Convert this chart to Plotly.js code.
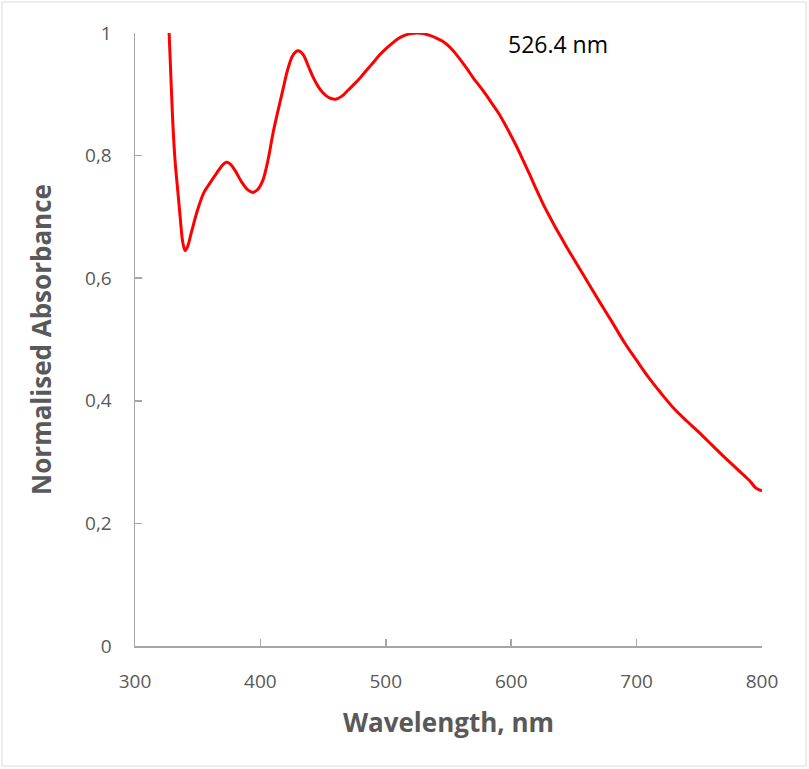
<!DOCTYPE html>
<html>
<head>
<meta charset="utf-8">
<script src="https://cdn.plot.ly/plotly-3.0.1.min.js"></script>
<style>html,body{margin:0;padding:0;background:#fff;}#chart{width:809px;height:769px;}</style>
</head>
<body>
<div id="chart"></div>
<script>
// Wavelength (nm)
var wavelength = [326, 328, 330, 332, 334, 336, 338, 340, 342, 345, 350, 355, 360, 365, 370, 373, 376, 380, 385, 390, 394, 398, 402, 406, 410, 414, 418, 422, 426, 430, 434, 438, 442, 446, 450, 455, 460, 465, 470, 475, 480, 485, 490, 495, 500, 505, 510, 515, 520, 525, 530, 535, 540, 545, 550, 555, 560, 565, 570, 575, 580, 585, 590, 595, 600, 605, 610, 615, 620, 625, 630, 635, 640, 645, 650, 660, 670, 680, 690, 700, 710, 720, 730, 740, 750, 760, 770, 780, 790, 795, 800];
// Normalised absorbance
var absorbance = [1.06, 0.96, 0.86, 0.79, 0.745, 0.70, 0.66, 0.645, 0.652, 0.675, 0.712, 0.740, 0.756, 0.771, 0.785, 0.789, 0.786, 0.775, 0.757, 0.744, 0.740, 0.745, 0.760, 0.792, 0.836, 0.873, 0.908, 0.942, 0.964, 0.971, 0.965, 0.947, 0.928, 0.913, 0.902, 0.894, 0.892, 0.897, 0.907, 0.917, 0.928, 0.940, 0.952, 0.964, 0.974, 0.983, 0.991, 0.996, 0.999, 1.0, 0.999, 0.996, 0.992, 0.987, 0.979, 0.968, 0.955, 0.941, 0.926, 0.913, 0.899, 0.884, 0.869, 0.851, 0.832, 0.812, 0.790, 0.768, 0.745, 0.723, 0.703, 0.684, 0.666, 0.648, 0.631, 0.597, 0.563, 0.530, 0.496, 0.466, 0.437, 0.411, 0.387, 0.367, 0.348, 0.328, 0.308, 0.289, 0.270, 0.258, 0.253];
var xTickVals = [300, 400, 500, 600, 700, 800];
var xTickText = ["300", "400", "500", "600", "700", "800"];
var yTickVals = [0, 0.2, 0.4, 0.6, 0.8, 1];
var yTickText = ["0", "0,2", "0,4", "0,6", "0,8", "1"];
var peakLabel = "526.4 nm";

var axisColor = "#a6a6a6";
var textColor = "#595959";
var fontFam = "Open Sans, sans-serif";

var trace = {
  x: wavelength, y: absorbance, type: "scatter", mode: "lines",
  line: {color: "#ff0000", width: 3, shape: "spline", smoothing: 1},
  hoverinfo: "skip"
};

var layout = {
  width: 809, height: 769,
  margin: {l: 135, r: 47, t: 33, b: 123},
  paper_bgcolor: "#ffffff", plot_bgcolor: "#ffffff",
  showlegend: false,
  xaxis: {
    range: [300, 800], tickvals: xTickVals, ticktext: xTickText,
    showgrid: false, zeroline: false, showline: true, linecolor: axisColor, linewidth: 1.5,
    ticks: "inside", ticklen: 7, tickcolor: axisColor, tickwidth: 1.5,
    ticklabelstandoff: 18,
    tickfont: {family: fontFam, size: 19, color: textColor},
    title: {text: "<b>Wavelength, nm</b>", font: {family: fontFam, size: 26, color: textColor}, standoff: 20},
    automargin: false
  },
  yaxis: {
    range: [0, 1], tickvals: yTickVals, ticktext: yTickText,
    showgrid: false, zeroline: false, showline: true, linecolor: axisColor, linewidth: 1.5,
    ticks: "inside", ticklen: 7, tickcolor: axisColor, tickwidth: 1.5,
    ticklabelstandoff: 18,
    tickfont: {family: fontFam, size: 19, color: textColor},
    title: {text: "<b>Normalised Absorbance</b>", font: {family: fontFam, size: 26, color: textColor}, standoff: 26},
    automargin: false
  },
  annotations: [{
    text: peakLabel, xref: "paper", yref: "paper", x: 0.674, y: 0.982,
    xanchor: "center", yanchor: "middle", showarrow: false,
    font: {family: fontFam, size: 23, color: "#000000"}
  }],
  shapes: [{
    type: "rect", xref: "paper", yref: "paper",
    x0: -0.2121, x1: 1.0702, y0: -0.1958, y1: 1.0506,
    line: {color: "#d9d9d9", width: 1}, fillcolor: "rgba(0,0,0,0)", layer: "below"
  }]
};

Plotly.newPlot("chart", [trace], layout, {staticPlot: true, displayModeBar: false});
</script>
</body>
</html>
